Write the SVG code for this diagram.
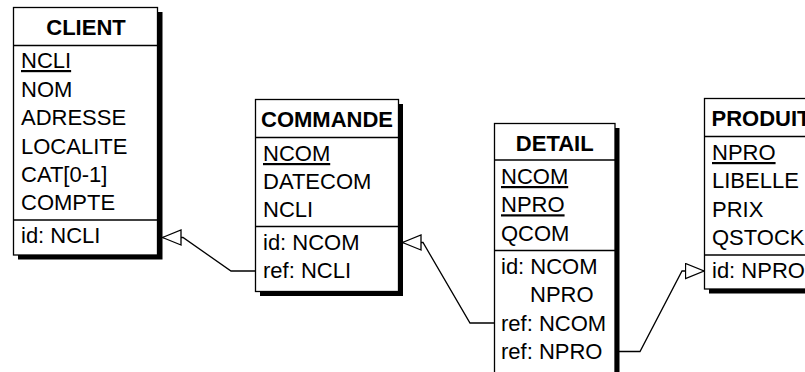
<svg xmlns="http://www.w3.org/2000/svg" width="805" height="372" viewBox="0 0 805 372">
<style>
  .bg{fill:#ffffff}
  .shadow{fill:#000000}
  .box{fill:#ffffff;stroke:#000000;stroke-width:1.3}
  .sep{stroke:#000000;stroke-width:1.3}
  .t{font-family:"Liberation Sans",Arial,sans-serif;font-size:22px;fill:#000000}
  .title{font-weight:bold;text-anchor:middle}
  .u{text-decoration:underline}
  .conn{fill:none;stroke:#000000;stroke-width:1.3;marker-end:url(#tri)}
</style>
<defs>
  <marker id="tri" markerUnits="userSpaceOnUse" viewBox="0 0 21 17" markerWidth="21" markerHeight="17" refX="19.5" refY="8.5" orient="auto">
    <path d="M1,1 L19.5,8.5 L1,16 Z" fill="#ffffff" stroke="#000000" stroke-width="1.3"/>
  </marker>
</defs>
<rect class="bg" x="0" y="0" width="805" height="372"/>

<g id="connectors">
  <path class="conn" d="M255,271 L231,271 L183,237.5 L162.5,237.5"/>
  <path class="conn" d="M494,323 L470,323 L423,242.5 L402.5,242.5"/>
  <path class="conn" d="M619,351.5 L640,351.5 L682,271 L704,271"/>
</g>

<g id="client">
  <rect class="shadow" x="18" y="12" width="144.5" height="247.5"/>
  <rect class="box" x="13.5" y="7.5" width="144" height="247.5"/>
  <line class="sep" x1="13.5" y1="45.5" x2="157.5" y2="45.5"/>
  <line class="sep" x1="13.5" y1="220" x2="157.5" y2="220"/>
  <text class="t title" x="86" y="35">CLIENT</text>
  <text class="t u" x="21" y="68">NCLI</text>
  <text class="t" x="21" y="96.5">NOM</text>
  <text class="t" x="21" y="125">ADRESSE</text>
  <text class="t" x="21" y="153.5">LOCALITE</text>
  <text class="t" x="21" y="181.5">CAT[0-1]</text>
  <text class="t" x="21" y="210">COMPTE</text>
  <text class="t" x="21" y="243">id: NCLI</text>
</g>

<g id="commande">
  <rect class="shadow" x="260" y="104" width="143" height="192"/>
  <rect class="box" x="255.5" y="99.5" width="143" height="192"/>
  <line class="sep" x1="255.5" y1="137.5" x2="398.5" y2="137.5"/>
  <line class="sep" x1="255.5" y1="226.5" x2="398.5" y2="226.5"/>
  <text class="t title" x="327" y="126.5">COMMANDE</text>
  <text class="t u" x="263" y="161">NCOM</text>
  <text class="t" x="263" y="189">DATECOM</text>
  <text class="t" x="263" y="217">NCLI</text>
  <text class="t" x="263" y="249.5">id: NCOM</text>
  <text class="t" x="263" y="277.5">ref: NCLI</text>
</g>

<g id="detail">
  <rect class="shadow" x="499" y="128" width="120.5" height="252"/>
  <rect class="box" x="494.5" y="123.5" width="120.5" height="252"/>
  <line class="sep" x1="494.5" y1="160" x2="615" y2="160"/>
  <line class="sep" x1="494.5" y1="250.5" x2="615" y2="250.5"/>
  <text class="t title" x="554.75" y="150.5">DETAIL</text>
  <text class="t u" x="501" y="184">NCOM</text>
  <text class="t u" x="501" y="212.3">NPRO</text>
  <text class="t" x="501" y="240.6">QCOM</text>
  <text class="t" x="501" y="274">id: NCOM</text>
  <text class="t" x="530" y="302.3">NPRO</text>
  <text class="t" x="501" y="330.6">ref: NCOM</text>
  <text class="t" x="501" y="358.9">ref: NPRO</text>
</g>

<g id="produit">
  <rect class="shadow" x="709" y="103" width="113" height="190.5"/>
  <rect class="box" x="704.5" y="98.5" width="113" height="190.5"/>
  <line class="sep" x1="704.5" y1="136.5" x2="817.5" y2="136.5"/>
  <line class="sep" x1="704.5" y1="255" x2="817.5" y2="255"/>
  <text class="t title" x="761" y="125.5">PRODUIT</text>
  <text class="t u" x="712" y="160">NPRO</text>
  <text class="t" x="712" y="188.3">LIBELLE</text>
  <text class="t" x="712" y="216.6">PRIX</text>
  <text class="t" x="712" y="245">QSTOCK</text>
  <text class="t" x="712" y="277.5">id: NPRO</text>
</g>
</svg>
